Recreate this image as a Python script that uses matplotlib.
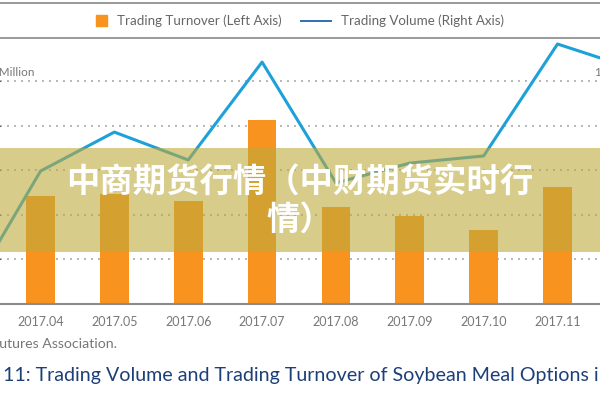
import numpy as np
import matplotlib
matplotlib.use("Agg")
import matplotlib.pyplot as plt
from matplotlib.lines import Line2D
from matplotlib.patches import Rectangle, Patch
from matplotlib.legend_handler import HandlerPatch

# Monthly data (2017.03 and 2017.12 are cut off at the edges of the picture)
months = ["2017.03", "2017.04", "2017.05", "2017.06", "2017.07",
          "2017.08", "2017.09", "2017.10", "2017.11", "2017.12"]
turnover = [np.nan, 24.3, 24.7, 23.2, 41.3, 21.7, 19.7, 16.5, 26.2, np.nan]   # left axis
volume = [3.1, 59.6, 77.1, 64.6, 108.5, 54.3, 63.2, 66.4, 116.6, 105.8]       # right axis
left_grid = [10, 20, 30, 40, 50]

ORANGE = "#f7931e"
BLUE = "#1ea0d8"
GREY_TXT = "#777777"

W, H = 600, 400


def fx(px):
    return px / W


def fy(py):
    return 1 - py / H


fig = plt.figure(figsize=(6, 4), dpi=100, facecolor="white")

# axes deliberately wider than the figure: the screenshot is a crop
ax = fig.add_axes([0, fy(304), 1, (304 - 40) / H])
pos = np.arange(len(months))
ax.bar(pos, turnover, width=0.39, color=ORANGE, zorder=2)
ax.set_xlim(1 - 40.5 / 73.86, 1 + (600 - 40.5) / 73.86)
ax.set_ylim(0, 59.2)
ax.set_yticks(left_grid)
ax.set_axisbelow(True)
ax.yaxis.grid(True, color="#b5b5b5", lw=1.4, ls=(0, (1, 2.6)))
ax.tick_params(axis="y", left=False, labelleft=False)
ax.set_xticks(pos[1:9])
ax.set_xticklabels(months[1:9])
ax.tick_params(axis="x", bottom=False, pad=5, labelsize=9, labelcolor=GREY_TXT)
for lab in ax.get_xticklabels():
    lab.set_family("Lato")
for s in ["left", "right", "top"]:
    ax.spines[s].set_visible(False)
ax.spines["bottom"].set_color("#8c8c8c")
ax.spines["bottom"].set_linewidth(1.5)

ax2 = ax.twinx()
ax2.plot(pos, volume, color=BLUE, lw=2.2, zorder=3)
ax2.set_ylim(0, 118.4)
ax2.tick_params(axis="y", right=False, labelright=False)
for s in ax2.spines.values():
    s.set_visible(False)

# axis unit labels (partly outside the crop)
fig.text(fx(35), fy(72), "RMB 100 Million", ha="right", va="center",
         fontsize=8.5, color=GREY_TXT, family="Lato")
fig.text(fx(595), fy(72), "10,000 Lots", ha="left", va="center",
         fontsize=8.5, color=GREY_TXT, family="Lato")

# legend band between two grey rules
for yy in (3, 38):
    fig.add_artist(Line2D([0, 1], [fy(yy), fy(yy)], transform=fig.transFigure,
                          color="#9a9a9a", lw=1.4))


def make_square(legend, orig_handle, xdescent, ydescent, width, height, fontsize):
    sq = 7.9
    return Rectangle((width - sq - xdescent, (height - sq) / 2 - ydescent), sq, sq)


handles = [Patch(color=ORANGE), Line2D([], [], color="#2f6eb5", lw=1.4)]
labels = ["Trading Turnover (Left Axis)", "Trading Volume (Right Axis)"]
fig.legend(handles, labels, loc="center left", bbox_to_anchor=(fx(70), fy(21)),
           ncol=2, frameon=False, borderpad=0,
           handlelength=2.25, handletextpad=0.78, columnspacing=1.45,
           prop={"family": "Lato", "size": 9.6},
           handler_map={Patch: HandlerPatch(patch_func=make_square)},
           labelcolor="#666666")

# source and caption below the chart
fig.text(fx(117), fy(344), "Source: China Futures Association.", ha="right",
         va="center", fontsize=10.2, color=GREY_TXT, family="Lato")
fig.text(fx(3), fy(376),
         "11: Trading Volume and Trading Turnover of Soybean Meal Options in 2017",
         ha="left", va="center", fontsize=14.1, color="#1d3f78", family="Lato")

# translucent banner with the overlaid title
fig.add_artist(Rectangle((0, fy(252)), 1, (252 - 148) / H, transform=fig.transFigure,
                         facecolor=(190 / 255, 170 / 255, 60 / 255), alpha=0.6,
                         edgecolor="none", zorder=4))
fig.text(0.5, fy(202), "中商期货行情（中财期货实时行\n情）", ha="center", va="center",
         color="white", fontsize=24, fontweight="bold", linespacing=1.15,
         family=["Noto Sans CJK SC", "DejaVu Sans"], zorder=5)

fig.savefig("out.png", dpi=100)
